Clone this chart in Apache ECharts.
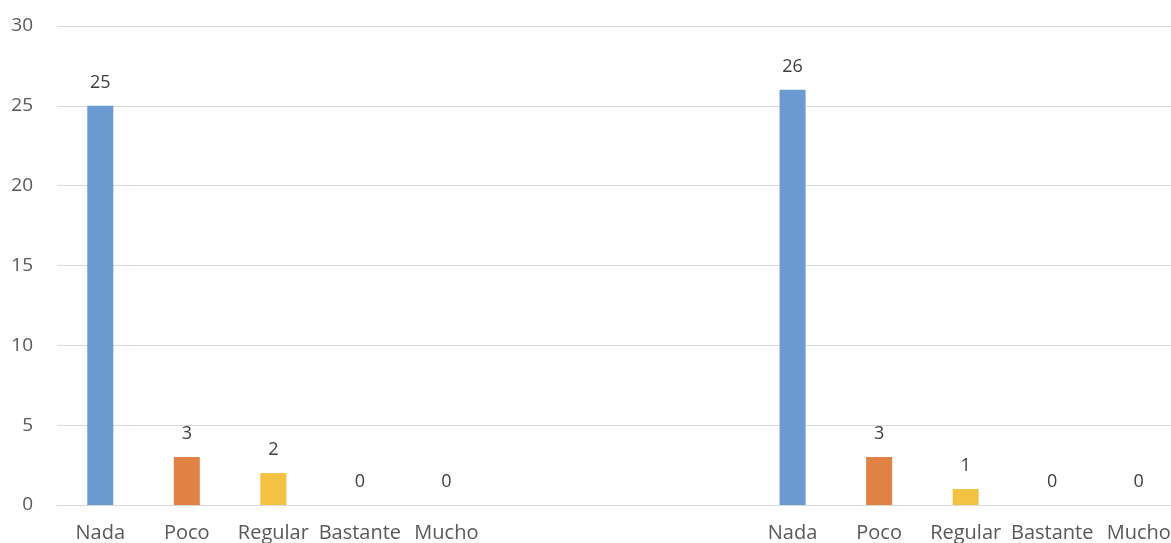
<!DOCTYPE html>
<html>
<head>
<meta charset="utf-8">
<script src="https://cdn.jsdelivr.net/npm/echarts@6/dist/echarts.min.js"></script>
<style>
html,body{margin:0;padding:0;background:#fff;}
#chart{width:1171px;height:543px;}
</style>
</head>
<body>
<div id="chart"></div>
<script>
// Categories (two groups separated by empty slots)
const categories = ['Nada','Poco','Regular','Bastante','Mucho','','','','Nada','Poco','Regular','Bastante','Mucho'];
const group1Values = [25, 3, 2, 0, 0];
const group2Values = [26, 3, 1, 0, 0];
const gapCount = 3;
const categoryColors = ['#6A9AD0', '#E08244', '#F4C242', '#A5A5A5', '#4472C4'];
const yTicks = [0, 5, 10, 15, 20, 25, 30];

const data = [];
group1Values.forEach((v, i) => data.push({ value: v, itemStyle: { color: categoryColors[i] } }));
for (let i = 0; i < gapCount; i++) data.push({ value: '-', label: { show: false } });
group2Values.forEach((v, i) => data.push({ value: v, itemStyle: { color: categoryColors[i] } }));

const chart = echarts.init(document.getElementById('chart'));
const font = '"Open Sans", "Noto Sans", sans-serif';
chart.setOption({
  animation: false,
  grid: { left: 57, top: 26, height: 479, width: 1125, containLabel: false, outerBoundsMode: 'none' },
  xAxis: {
    type: 'category',
    data: categories,
    axisLine: { show: true, lineStyle: { color: '#D9D9D9', width: 1 } },
    axisTick: { show: false },
    axisLabel: { interval: 0, color: '#595959', fontSize: 20, fontFamily: font, margin: 18 }
  },
  yAxis: {
    type: 'value',
    min: yTicks[0],
    max: yTicks[yTicks.length - 1],
    interval: 5,
    axisLine: { show: false },
    axisTick: { show: false },
    splitLine: { lineStyle: { color: '#D9D9D9', width: 1 } },
    axisLabel: { color: '#595959', fontSize: 19, fontFamily: font, margin: 24 }
  },
  series: [{
    type: 'bar',
    data: data,
    barWidth: 26,
    label: { show: true, position: 'top', distance: 14, color: '#404040', fontSize: 18, fontFamily: font }
  }]
});
</script>
</body>
</html>
